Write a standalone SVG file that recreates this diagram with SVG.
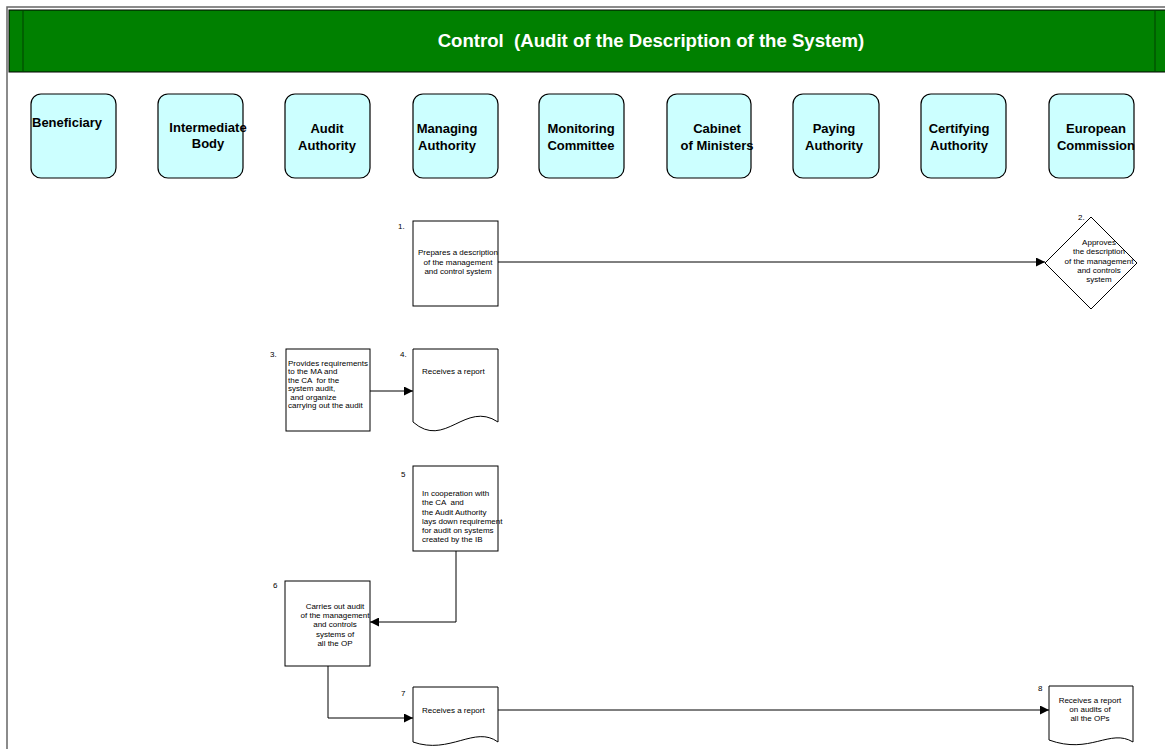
<svg xmlns="http://www.w3.org/2000/svg" width="1165" height="749" viewBox="0 0 1165 749">
  <defs>
    <style>
      .lane { fill: #ccffff; stroke: #000; stroke-width: 1.2; }
      .lane-text { font-family: "Liberation Sans", Arial, sans-serif; font-size: 13px; font-weight: bold; fill: #000; text-anchor: middle; }
      .step { fill: #fff; stroke: #000; stroke-width: 1; }
      .small { font-family: "Liberation Sans", Arial, sans-serif; font-size: 8px; fill: #000; }
      .mid { text-anchor: middle; }
      .conn { fill: none; stroke: #000; stroke-width: 1; }
    </style>
    <marker id="arrow" viewBox="0 0 10 10" refX="10" refY="5" markerWidth="10" markerHeight="9" markerUnits="userSpaceOnUse" orient="auto">
      <path d="M0,0 L10,5 L0,10 Z" fill="#000"/>
    </marker>
  </defs>

  <rect x="0" y="0" width="1165" height="749" fill="#fff"/>

  <!-- page frame -->
  <g id="frame">
    <path d="M7,749 V7 H1165" fill="none" stroke="#666" stroke-width="1.5"/>
    <rect x="9" y="10" width="1160" height="62" fill="#008000" stroke="#000" stroke-width="1"/>
    <line x1="23" y1="10" x2="23" y2="72" stroke="#004000" stroke-width="1"/>
    <line x1="1155" y1="10" x2="1155" y2="72" stroke="#004000" stroke-width="1"/>
    <text x="651" y="47" font-family="Liberation Sans, Arial, sans-serif" font-size="18.6" font-weight="bold" fill="#fff" text-anchor="middle" xml:space="preserve">Control  (Audit of the Description of the System)</text>
  </g>

  <!-- swimlane headers -->
  <g id="lane-beneficiary">
    <rect class="lane" x="31" y="94" width="85" height="84" rx="10"/>
    <text class="lane-text" x="32" y="127" style="text-anchor:start">Beneficiary</text>
  </g>
  <g id="lane-intermediate-body">
    <rect class="lane" x="158" y="94" width="85" height="84" rx="10"/>
    <text class="lane-text" x="208" y="132">Intermediate</text>
    <text class="lane-text" x="208" y="148">Body</text>
  </g>
  <g id="lane-audit-authority">
    <rect class="lane" x="285" y="94" width="85" height="84" rx="10"/>
    <text class="lane-text" x="327" y="133">Audit</text>
    <text class="lane-text" x="327" y="150">Authority</text>
  </g>
  <g id="lane-managing-authority">
    <rect class="lane" x="413" y="94" width="85" height="84" rx="10"/>
    <text class="lane-text" x="447" y="133">Managing</text>
    <text class="lane-text" x="447" y="150">Authority</text>
  </g>
  <g id="lane-monitoring-committee">
    <rect class="lane" x="539" y="94" width="85" height="84" rx="10"/>
    <text class="lane-text" x="581" y="133">Monitoring</text>
    <text class="lane-text" x="581" y="150">Committee</text>
  </g>
  <g id="lane-cabinet">
    <rect class="lane" x="667" y="94" width="84" height="84" rx="10"/>
    <text class="lane-text" x="717" y="133">Cabinet</text>
    <text class="lane-text" x="717" y="150">of Ministers</text>
  </g>
  <g id="lane-paying-authority">
    <rect class="lane" x="793" y="94" width="86" height="84" rx="10"/>
    <text class="lane-text" x="834" y="133">Paying</text>
    <text class="lane-text" x="834" y="150">Authority</text>
  </g>
  <g id="lane-certifying-authority">
    <rect class="lane" x="921" y="94" width="85" height="84" rx="10"/>
    <text class="lane-text" x="959" y="133">Certifying</text>
    <text class="lane-text" x="959" y="150">Authority</text>
  </g>
  <g id="lane-european-commission">
    <rect class="lane" x="1049" y="94" width="85" height="84" rx="10"/>
    <text class="lane-text" x="1096" y="133">European</text>
    <text class="lane-text" x="1096" y="150">Commission</text>
  </g>

  <!-- connectors -->
  <g id="connectors">
    <path class="conn" d="M498,262 H1045" marker-end="url(#arrow)"/>
    <path class="conn" d="M370,391 H413" marker-end="url(#arrow)"/>
    <path class="conn" d="M456,551 V622 H370" marker-end="url(#arrow)"/>
    <path class="conn" d="M328,666 V718 H413" marker-end="url(#arrow)"/>
    <path class="conn" d="M498,710 H1049" marker-end="url(#arrow)"/>
  </g>

  <!-- step 1 -->
  <g id="step-1">
    <rect class="step" x="413" y="221" width="85" height="85"/>
    <text class="small" x="398" y="229">1.</text>
    <text class="small mid" x="458" y="255">Prepares a description</text>
    <text class="small mid" x="458" y="265">of the management</text>
    <text class="small mid" x="458" y="274">and control system</text>
  </g>

  <!-- step 2 -->
  <g id="step-2">
    <path class="step" d="M1091,217 L1137,263 L1091,309 L1045,263 Z"/>
    <text class="small" x="1078" y="220">2.</text>
    <text class="small mid" x="1099" y="245">Approves</text>
    <text class="small mid" x="1099" y="254">the description</text>
    <text class="small mid" x="1099" y="264">of the management</text>
    <text class="small mid" x="1099" y="273">and controls</text>
    <text class="small mid" x="1099" y="282">system</text>
  </g>

  <!-- step 3 -->
  <g id="step-3">
    <rect class="step" x="286" y="349" width="84" height="82"/>
    <text class="small" x="270" y="357">3.</text>
    <text class="small" x="288" y="366" xml:space="preserve">Provides requirements</text>
    <text class="small" x="288" y="374" xml:space="preserve">to the MA and</text>
    <text class="small" x="288" y="383" xml:space="preserve">the CA  for the</text>
    <text class="small" x="288" y="391" xml:space="preserve">system audit,</text>
    <text class="small" x="288" y="400" xml:space="preserve"> and organize</text>
    <text class="small" x="288" y="408" xml:space="preserve">carrying out the audit</text>
  </g>

  <!-- step 4 -->
  <g id="step-4">
    <path class="step" d="M413,349 H498 V422 C465,400 445,450 413,422 Z"/>
    <text class="small" x="400" y="357">4.</text>
    <text class="small" x="422" y="374">Receives a report</text>
  </g>

  <!-- step 5 -->
  <g id="step-5">
    <rect class="step" x="413" y="466" width="85" height="85"/>
    <text class="small" x="401" y="477">5</text>
    <text class="small" x="422" y="496">In cooperation with</text>
    <text class="small" x="422" y="505" xml:space="preserve">the CA  and</text>
    <text class="small" x="422" y="515">the Audit Authority</text>
    <text class="small" x="422" y="524">lays down requirement</text>
    <text class="small" x="422" y="533">for audit on systems</text>
    <text class="small" x="422" y="542">created by the IB</text>
  </g>

  <!-- step 6 -->
  <g id="step-6">
    <rect class="step" x="285" y="581" width="85" height="85"/>
    <text class="small" x="273" y="588">6</text>
    <text class="small mid" x="335" y="609">Carries out audit</text>
    <text class="small mid" x="335" y="618">of the management</text>
    <text class="small mid" x="335" y="627">and controls</text>
    <text class="small mid" x="335" y="637">systems of</text>
    <text class="small mid" x="335" y="646">all the OP</text>
  </g>

  <!-- step 7 -->
  <g id="step-7">
    <path class="step" d="M413,687 H498 V742 C475,725 450,755 413,742 Z"/>
    <text class="small" x="401" y="696">7</text>
    <text class="small" x="422" y="713">Receives a report</text>
  </g>

  <!-- step 8 -->
  <g id="step-8">
    <path class="step" d="M1049,686 H1133 V742 C1110,728 1090,755 1049,740 Z"/>
    <text class="small" x="1038" y="691">8</text>
    <text class="small mid" x="1090" y="703">Receives a report</text>
    <text class="small mid" x="1090" y="712">on audits of</text>
    <text class="small mid" x="1090" y="721">all the OPs</text>
  </g>
</svg>
